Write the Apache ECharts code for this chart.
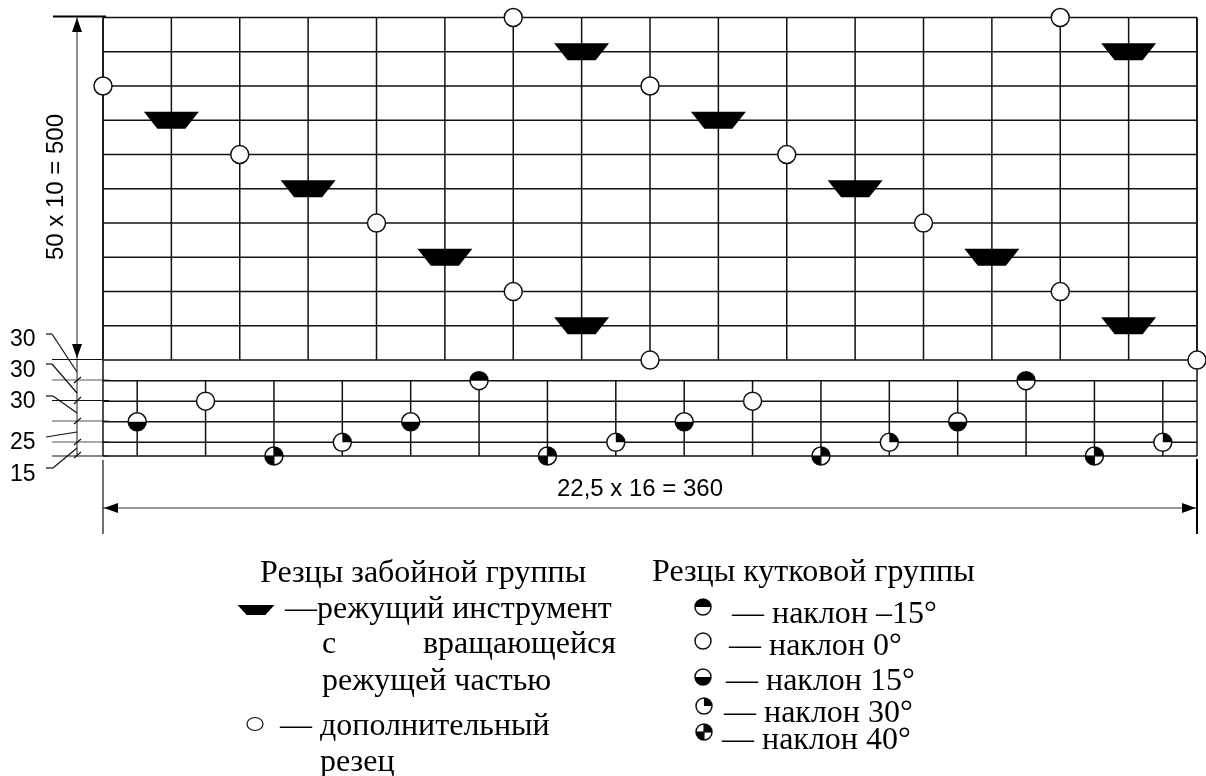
<!DOCTYPE html>
<html><head><meta charset="utf-8">
<style>html,body{margin:0;padding:0;background:#fff}#c{width:1206px;height:776px}</style>
<script src="https://cdn.jsdelivr.net/npm/echarts@6/dist/echarts.min.js"></script></head>
<body><div id="c"></div>
<script>
// Data, in mm
const columnX = [0,22.5,45,67.5,90,112.5,135,157.5,180,202.5,225,247.5,270,292.5,315,337.5,360];
const lowerColumnX = [11.25,33.75,56.25,78.75,101.25,123.75,146.25,168.75,191.25,213.75,236.25,258.75,281.25,303.75,326.25,348.75];
const rowY = [0,20,50,80,110,140,190,240,290,340,390,440,490,540,590,640];
const cutterX = [22.5,67.5,112.5,157.5,157.5,202.5,247.5,292.5,337.5,337.5];
const cutterY = [490,390,290,190,590,490,390,290,190,590];
const extraX = [0,45,90,135,135,180,180,225,270,315,315,360];
const extraY = [540,440,340,240,640,540,140,440,340,240,640,140];
const cornerY = [50,80,0,20,50,110,0,20,50,80,0,20,50,110,0,20];
const cornerTilt = [15,0,40,30,15,-15,40,30,15,0,40,30,15,-15,40,30];
const leftLabels = ['30','30','30','25','15'];
const legendCutters = ['Резцы забойной группы','—режущий инструмент','с','вращающейся','режущей частью','— дополнительный','резец'];
const legendCorner = ['Резцы кутковой группы','— наклон –15°','— наклон 0°','— наклон 15°','— наклон 30°','— наклон 40°'];
const dimTexts = ['50 x 10 = 500','22,5 x 16 = 360'];

const INK='#111';
const R=9;
function sector(cx,cy,r,a0,a1){return {type:'sector',shape:{cx,cy,r,r0:0,startAngle:a0,endAngle:a1},style:{fill:'#000'},silent:true};}
function tiltMark(cx,cy,t,r){
  r=r||R;
  const kids=[{type:'circle',shape:{cx,cy,r},style:{fill:'#fff',stroke:INK,lineWidth:1.5}}];
  const d=Math.PI/180;
  if(t===-15) kids.push(sector(cx,cy,r,Math.PI,2*Math.PI));
  if(t===15) kids.push(sector(cx,cy,r,0,Math.PI));
  if(t===30) kids.push(sector(cx,cy,r,-90*d,0));
  if(t===40){
    kids.push(sector(cx,cy,r,-90*d,0)); kids.push(sector(cx,cy,r,90*d,180*d));
    kids.push({type:'line',shape:{x1:cx-r,y1:cy,x2:cx+r,y2:cy},style:{stroke:INK,lineWidth:1.2}});
    kids.push({type:'line',shape:{x1:cx,y1:cy-r,x2:cx,y2:cy+r},style:{stroke:INK,lineWidth:1.2}});
  }
  return kids;
}
function trap(cx,cy,sx,sy){
  sx=sx||1;sy=sy||1;
  return {type:'polygon',shape:{points:[[cx-27.5*sx,cy-8.5*sy],[cx+27.5*sx,cy-8.5*sy],[cx+14*sx,cy+8.5*sy],[cx-14*sx,cy+8.5*sy]]},style:{fill:'#000'}};
}
const ln=(x1,y1,x2,y2,w,col)=>({type:'line',shape:{x1,y1,x2,y2},style:{stroke:col||INK,lineWidth:w||1.2},silent:true});
const arrow=(x,y,dx,dy)=>{ // tip at x,y pointing along dx,dy
  const L=14,W=5;
  return {type:'polygon',shape:{points:[[x,y],[x-dx*L-dy*W,y-dy*L-dx*W],[x-dx*L+dy*W,y-dy*L+dx*W]]},style:{fill:'#000'},silent:true};
};
const sansDim='24px "Liberation Sans"', sansLab='23px "Liberation Sans"', serif='32px "Liberation Serif"';

const gfx=[
  ln(77,17,77,456,1.2,'#444'),
  arrow(77,18,0,-1),arrow(77,358,0,1),
  ln(53,16.5,106,16.5,2,'#000'),ln(52,359.5,104,359.5,1.2),
  ln(52,380,109,380,1.2,'#555'),ln(52,400.5,109,400.5,1.2),ln(52,421,109,421,1.2,'#555'),ln(52,442,109,442,1.2,'#555'),ln(52,456,109,456,1.2),
  ln(74,383,81,377),ln(74,404,81,397),ln(74,424,81,418),ln(74,445,81,439),ln(74,458,81,452),
  ln(46,334,52,334),ln(52,334,77,372),
  ln(46,364,52,364),ln(52,364,77,393),
  ln(46,396,53,396),ln(53,396,77,413),
  ln(46,437,77,432),
  ln(46,468,53,468),ln(53,468,77,448),
  ln(103,508,1197,508,1.2,'#333'),arrow(104,508,-1,0),arrow(1196,508,1,0),
  ln(103,460,103,534,1.2),ln(1197,459,1197,534,2,'#000'),
  {type:'text',x:56,y:187,rotation:Math.PI/2,style:{text:dimTexts[0],font:sansDim,fill:'#000',align:'center',verticalAlign:'middle'}},
  {type:'text',x:640,y:489.5,style:{text:dimTexts[1],font:sansDim,fill:'#000',align:'center',verticalAlign:'middle'}},
];
[340,371,402,443,475].forEach((y,i)=>gfx.push({type:'text',x:10,y,style:{text:leftLabels[i],font:sansLab,fill:'#000',verticalAlign:'middle'}}));
[[260,574,0],[285,610,1],[322,645,2],[423,645,3],[322,682,4],[280,727,5],[320,763,6]].forEach(a=>{
  gfx.push({type:'text',x:a[0],y:a[1],style:{text:legendCutters[a[2]],font:serif,fill:'#000',verticalAlign:'middle'}});
});
gfx.push({type:'text',x:652,y:573,style:{text:legendCorner[0],font:serif,fill:'#000',verticalAlign:'middle'}});
[[732,615,1],[729,647,2],[726,682,3],[724,714,4],[722,741,5]].forEach(a=>{
  gfx.push({type:'text',x:a[0],y:a[1],style:{text:legendCorner[a[2]],font:serif,fill:'#000',verticalAlign:'middle'}});
});
gfx.push(trap(256,610,0.67,0.59));
gfx.push({type:'ellipse',shape:{cx:255,cy:724,rx:8,ry:6.5},style:{fill:'#fff',stroke:INK,lineWidth:1.2}});
[[703,607,-15],[703,641,0],[703,677,15],[704,706,30],[704,732,40]].forEach(a=>{
  tiltMark(a[0],a[1],a[2],8).forEach(k=>gfx.push(k));
});

function segSeries(name,data,z){
  return {type:'custom',name,coordinateSystem:'cartesian2d',silent:true,clip:false,z,data,
    renderItem:(p,api)=>{
      const a=api.coord([api.value(0),api.value(1)]),b=api.coord([api.value(2),api.value(3)]);
      return {type:'line',shape:{x1:a[0],y1:a[1],x2:b[0],y2:b[1]},style:{stroke:INK,lineWidth:1.5}};
    }};
}
const topY=rowY[rowY.length-1], sepY=140, lowY=110;
const hLines=rowY.map(y=>[0,y,360,y]);
const vLines=columnX.map(x=>[x,sepY,x,topY]).concat(lowerColumnX.map(x=>[x,0,x,lowY])).concat([[0,0,0,topY],[360,0,360,topY]]);

const chart=echarts.init(document.getElementById('c'),null,{renderer:'canvas'});
chart.setOption({
  animation:false,backgroundColor:'#fff',
  grid:{left:103,top:17.5,width:1094,height:438.5},
  xAxis:{type:'value',min:0,max:360,show:false},
  yAxis:{type:'value',min:0,max:640,show:false},
  graphic:gfx,
  series:[
    segSeries('rows',hLines,1),
    segSeries('columns',vLines,1),
    {type:'custom',name:'Дополнительный резец',coordinateSystem:'cartesian2d',clip:false,z:3,
      data:extraX.map((x,i)=>[x,extraY[i]]),
      renderItem:(p,api)=>{const c=api.coord([api.value(0),api.value(1)]);
        return {type:'circle',shape:{cx:c[0],cy:c[1],r:R},style:{fill:'#fff',stroke:INK,lineWidth:1.5}};}},
    {type:'custom',name:'Режущий инструмент',coordinateSystem:'cartesian2d',clip:false,z:3,
      data:cutterX.map((x,i)=>[x,cutterY[i]]),
      renderItem:(p,api)=>{const c=api.coord([api.value(0),api.value(1)]);return trap(c[0],c[1]);}},
    {type:'custom',name:'Резцы кутковой группы',coordinateSystem:'cartesian2d',clip:false,z:3,
      data:lowerColumnX.map((x,i)=>[x,cornerY[i],cornerTilt[i]]),
      renderItem:(p,api)=>{const c=api.coord([api.value(0),api.value(1)]);
        return {type:'group',children:tiltMark(c[0],c[1],api.value(2))};}}
  ]
});
</script></body></html>
